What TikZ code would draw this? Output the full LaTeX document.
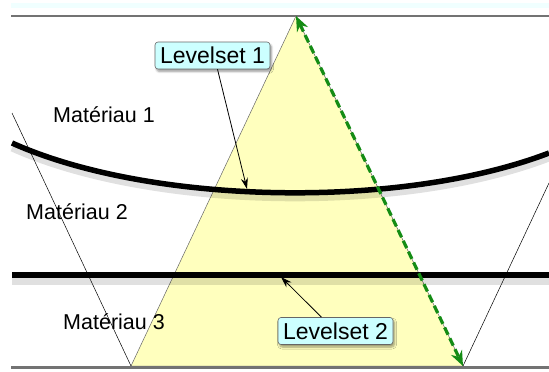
\documentclass[tikz,border=0pt]{standalone}
\usepackage{fontspec}
\setmainfont{Liberation Sans}
\usetikzlibrary{arrows.meta,shadows.blur}
\definecolor{triyellow}{RGB}{255,255,190}
\definecolor{boxcyan}{RGB}{204,255,255}
\definecolor{arrowgreen}{RGB}{20,140,20}
\definecolor{faintcyan}{RGB}{240,255,255}
\tikzset{
  matlabel/.style={font=\fontsize{21.5}{25}\selectfont, inner sep=0pt},
  lsbox/.style={draw=black!60, fill=boxcyan, rounded corners=3pt, line width=0.6pt,
    font=\fontsize{23}{27}\selectfont, minimum width=115pt, minimum height=27pt, inner sep=0pt,
    blur shadow={shadow xshift=1.5pt, shadow yshift=-2.5pt, shadow blur steps=6}},
  interface/.style={line width=5.5pt, black},
  ifshadow/.style={line width=7pt, black, opacity=0.12},
  pointer/.style={line width=0.8pt, -{Stealth[length=11pt,width=7pt]}},
}
\begin{document}
\begin{tikzpicture}[x=1pt,y=-1pt]
\useasboundingbox (0,0) rectangle (549,372);
% faint band and top line
\fill[faintcyan] (11,3) rectangle (549,8);
\draw[black!55, line width=1.2pt] (11,16) -- (549,16);
% triangle
\coordinate (apex) at (296,16);
\coordinate (bl) at (131,366);
\coordinate (br) at (463,366);
\filldraw[fill=triyellow, draw=black!60, line width=0.5pt] (apex) -- (bl) -- (br) -- cycle;
% thin side lines
\coordinate (lt) at (12,113);
\coordinate (rt) at (549,183);
\draw[black, line width=0.5pt] (lt) -- (bl);
\draw[black, line width=0.5pt] (br) -- (rt);
% bottom line
\draw[black!55, line width=3pt] (11,367.5) -- (549,367.5);
% interface shadows
\draw[ifshadow] (12,148) .. controls (150,210) and (400,215) .. (549,158);
\draw[ifshadow] (12,281) -- (549,281);
% interfaces
\draw[interface] (12,143) .. controls (150,205) and (400,210) .. (549,153);
\draw[interface] (12,275) -- (549,275);
% green double arrow
\draw[arrowgreen, line width=3.2pt, dash pattern=on 8pt off 4pt,
  {Stealth[length=15pt,width=12pt]}-{Stealth[length=15pt,width=12pt]}] (apex) -- (br);
% material labels
\node[matlabel] (m1) at (104,115) {Matériau 1};
\node[matlabel] (m2) at (77,212) {Matériau 2};
\node[matlabel] (m3) at (114,322) {Matériau 3};
% levelset boxes
\node[lsbox] (ls1) at (212.5,55.5) {Levelset 1};
\node[lsbox] (ls2) at (335.5,331) {Levelset 2};
\coordinate (p1) at (247,189);
\coordinate (p2) at (281,277);
\draw[pointer] (ls1.south) ++(5,0) -- (p1);
\draw[pointer] (ls2.north) ++(-14,0) -- (p2);
\end{tikzpicture}
\end{document}
